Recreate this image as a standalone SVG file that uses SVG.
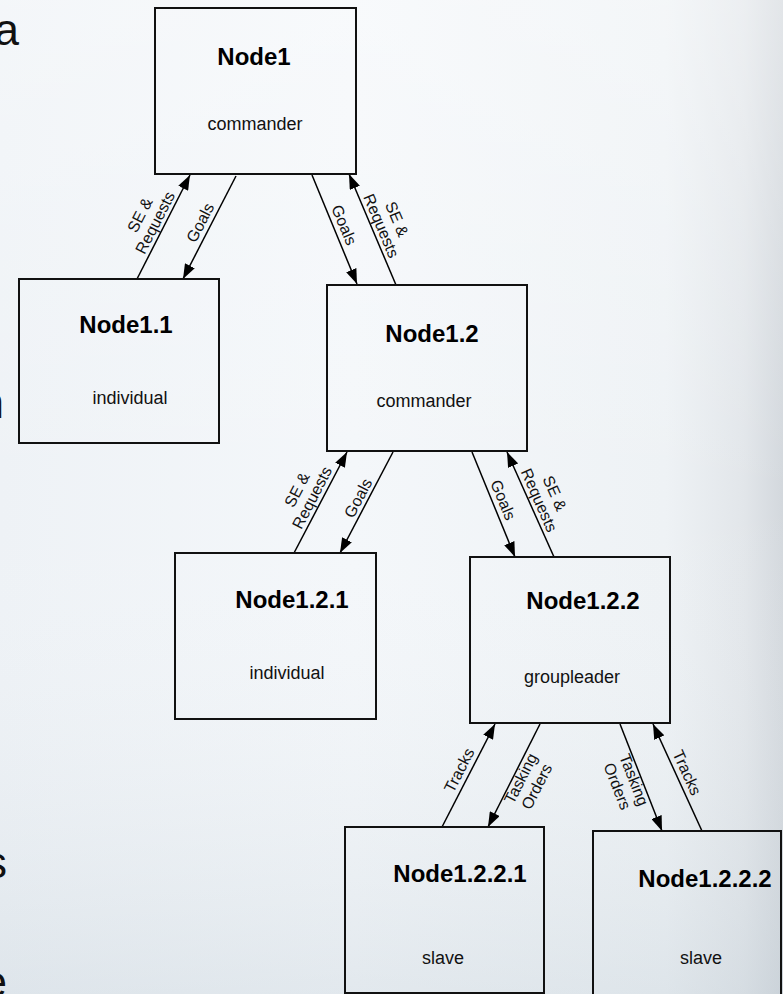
<svg xmlns="http://www.w3.org/2000/svg" width="783" height="994" viewBox="0 0 783 994">
  <defs>
    <linearGradient id="bgH" x1="0" y1="0" x2="1" y2="0">
      <stop offset="0" stop-color="#eef2f6"/>
      <stop offset="0.45" stop-color="#f4f7fa"/>
      <stop offset="0.85" stop-color="#eef2f5"/>
      <stop offset="0.95" stop-color="#e2e6ea"/>
      <stop offset="1" stop-color="#d3d8dd"/>
    </linearGradient>
    <linearGradient id="bgV" x1="0" y1="0" x2="0" y2="1">
      <stop offset="0" stop-color="#ffffff" stop-opacity="0.35"/>
      <stop offset="0.5" stop-color="#ffffff" stop-opacity="0"/>
      <stop offset="1" stop-color="#b8c6d0" stop-opacity="0.3"/>
    </linearGradient>
    <marker id="arr" markerUnits="userSpaceOnUse" markerWidth="15" markerHeight="11" refX="15" refY="5.5" orient="auto" viewBox="0 0 15 11">
      <path d="M0,0 L15,5.5 L0,11 z" fill="#000"/>
    </marker>
  </defs>
  <style>
    .box { fill: none; stroke: #111; stroke-width: 2; }
    .title { font-family: "Liberation Sans", Arial, sans-serif; font-weight: bold; font-size: 24px; fill: #000; text-anchor: middle; }
    .sub { font-family: "Liberation Sans", Arial, sans-serif; font-size: 18px; fill: #111; text-anchor: middle; }
    .conn { stroke: #000; stroke-width: 1.5; fill: none; marker-end: url(#arr); }
    .lbl { font-family: "Liberation Sans", Arial, sans-serif; font-size: 16px; fill: #111; text-anchor: middle; }
    .frag { font-family: "Liberation Sans", Arial, sans-serif; font-size: 44px; fill: #111; text-anchor: end; }
  </style>

  <rect x="0" y="0" width="783" height="994" fill="url(#bgH)"/>
  <rect x="0" y="0" width="783" height="994" fill="url(#bgV)"/>

  <g id="fragments">
    <text class="frag" x="19" y="45">a</text>
    <text class="frag" x="4" y="418">n</text>
    <text class="frag" x="7" y="878">s</text>
    <text class="frag" x="7" y="997">e</text>
  </g>

  <g id="connectors">
    <line class="conn" x1="137" y1="279" x2="190" y2="175"/>
    <line class="conn" x1="236" y1="176" x2="183" y2="279"/>
    <line class="conn" x1="312" y1="175" x2="357" y2="284"/>
    <line class="conn" x1="396" y1="285" x2="349" y2="174"/>
    <line class="conn" x1="294" y1="553" x2="347" y2="452"/>
    <line class="conn" x1="393" y1="452" x2="340" y2="553"/>
    <line class="conn" x1="472" y1="452" x2="515" y2="557"/>
    <line class="conn" x1="554" y1="557" x2="507" y2="452"/>
    <line class="conn" x1="442" y1="827" x2="495" y2="724"/>
    <line class="conn" x1="540" y1="724" x2="488" y2="827"/>
    <line class="conn" x1="620" y1="724" x2="662" y2="831"/>
    <line class="conn" x1="702" y1="831" x2="653" y2="724"/>

    <g transform="translate(163.5,227) rotate(-63)"><text class="lbl" y="-21">SE &amp;</text><text class="lbl" y="-4">Requests</text></g>
    <g transform="translate(209.5,227.5) rotate(-62.8)"><text class="lbl" y="-5">Goals</text></g>
    <g transform="translate(334.5,229) rotate(67.4)"><text class="lbl" y="-5">Goals</text></g>
    <g transform="translate(372.5,229.5) rotate(67)"><text class="lbl" y="-21">SE &amp;</text><text class="lbl" y="-4">Requests</text></g>
    <g transform="translate(320.5,502) rotate(-62.5)"><text class="lbl" y="-21">SE &amp;</text><text class="lbl" y="-4">Requests</text></g>
    <g transform="translate(366.5,502.5) rotate(-62.3)"><text class="lbl" y="-4">Goals</text></g>
    <g transform="translate(493.5,504) rotate(67.5)"><text class="lbl" y="-5">Goals</text></g>
    <g transform="translate(530.5,504) rotate(66.1)"><text class="lbl" y="-21">SE &amp;</text><text class="lbl" y="-4">Requests</text></g>
    <g transform="translate(468.5,775) rotate(-62.8)"><text class="lbl" y="-5">Tracks</text></g>
    <g transform="translate(514,775) rotate(-63)"><text class="lbl" y="13">Tasking</text><text class="lbl" y="31">Orders</text></g>
    <g transform="translate(641,777) rotate(68.6)"><text class="lbl" y="13">Tasking</text><text class="lbl" y="31">Orders</text></g>
    <g transform="translate(677.5,777) rotate(65.8)"><text class="lbl" y="-5">Tracks</text></g>
  </g>

  <g id="node1">
    <rect class="box" x="155" y="8" width="201" height="166"/>
    <text class="title" x="254" y="65">Node1</text>
    <text class="sub" x="255" y="130">commander</text>
  </g>
  <g id="node1_1">
    <rect class="box" x="19" y="279" width="200" height="164"/>
    <text class="title" x="126" y="333">Node1.1</text>
    <text class="sub" x="130" y="404">individual</text>
  </g>
  <g id="node1_2">
    <rect class="box" x="327" y="285" width="200" height="166"/>
    <text class="title" x="432" y="342">Node1.2</text>
    <text class="sub" x="424" y="407">commander</text>
  </g>
  <g id="node1_2_1">
    <rect class="box" x="175" y="553" width="201" height="166"/>
    <text class="title" x="292" y="608">Node1.2.1</text>
    <text class="sub" x="287" y="679">individual</text>
  </g>
  <g id="node1_2_2">
    <rect class="box" x="470" y="557" width="200" height="166"/>
    <text class="title" x="583" y="609">Node1.2.2</text>
    <text class="sub" x="572" y="683">groupleader</text>
  </g>
  <g id="node1_2_2_1">
    <rect class="box" x="345" y="827" width="199" height="166"/>
    <text class="title" x="460" y="882">Node1.2.2.1</text>
    <text class="sub" x="443" y="964">slave</text>
  </g>
  <g id="node1_2_2_2">
    <rect class="box" x="593" y="831" width="188" height="180"/>
    <text class="title" x="705" y="887">Node1.2.2.2</text>
    <text class="sub" x="701" y="964">slave</text>
  </g>
</svg>
